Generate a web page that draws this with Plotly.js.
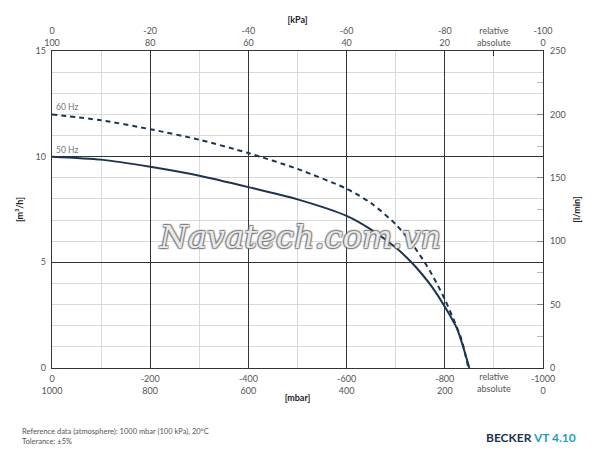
<!DOCTYPE html>
<html>
<head>
<meta charset="utf-8">
<script src="https://cdn.plot.ly/plotly-3.0.1.min.js"></script>
<style>html,body{margin:0;padding:0;background:#fff;}#chart{width:600px;height:450px;}</style>
</head>
<body>
<div id="chart"></div>
<script>
// Data
const mbar50 = [0, -100, -200, -300, -400, -500, -600, -650, -700, -730, -755, -775, -800, -825, -850];
const flow50 = [10, 9.86, 9.52, 9.1, 8.56, 7.98, 7.2, 6.55, 5.7, 5.05, 4.4, 3.8, 2.9, 1.85, 0];
const mbar60 = [0, -100, -200, -300, -400, -500, -600, -650, -700, -730, -750, -770, -786, -800, -817, -834, -848];
const flow60 = [12, 11.72, 11.3, 10.8, 10.17, 9.42, 8.48, 7.8, 6.8, 5.98, 5.32, 4.58, 3.9, 3.25, 2.35, 1.35, 0];

const mbarTicks = [0, -200, -400, -600, -800, -1000];
const mbarLabels = ['0<br>1000', '-200<br>800', '-400<br>600', '-600<br>400', '-800<br>200', '-1000<br>0'];
const kpaTicks = [0, -20, -40, -60, -80, -100];
const kpaLabels = ['0<br>100', '-20<br>80', '-40<br>60', '-60<br>40', '-80<br>20', '-100<br>0'];
const flowTicks = [0, 5, 10, 15];
const lminTicks = [0, 50, 100, 150, 200, 250];

const navy = '#1b3550';
const tickFont = {family: 'Lato, "Open Sans", sans-serif', size: 9, color: '#555'};

const traces = [
  {x: mbar60, y: flow60, mode: 'lines', line: {color: navy, width: 2, dash: '5px,4px', shape: 'spline', smoothing: 0.7}, hoverinfo: 'skip'},
  {x: mbar50, y: flow50, mode: 'lines', line: {color: navy, width: 2, shape: 'spline', smoothing: 0.7}, hoverinfo: 'skip'},
  {x: [], y: [], xaxis: 'x2', yaxis: 'y', mode: 'lines', hoverinfo: 'skip'},
  {x: [], y: [], xaxis: 'x3', yaxis: 'y', mode: 'lines', hoverinfo: 'skip'},
  {x: [], y: [], xaxis: 'x', yaxis: 'y2', mode: 'lines', hoverinfo: 'skip'}
];

const layout = {
  width: 600, height: 450,
  margin: {l: 52, r: 57, t: 51, b: 82},
  paper_bgcolor: '#fff', plot_bgcolor: '#fff',
  showlegend: false,
  font: tickFont,
  xaxis: {
    range: [0, -1000], tickmode: 'array', tickvals: mbarTicks, ticktext: mbarLabels,
    showgrid: true, gridcolor: '#333', gridwidth: 1, zeroline: false,
    showline: true, linecolor: '#333', linewidth: 1.3, mirror: true, ticks: '',
    tickfont: tickFont, ticklabelstandoff: 2,
    minor: {tickvals: [-100, -300, -500, -700, -900], showgrid: true, gridcolor: '#d9d9d9', gridwidth: 1, ticks: ''},
    title: {text: '<b>[mbar]</b>', font: {family: 'Lato, sans-serif', size: 9, color: '#222'}, standoff: 0},
    fixedrange: true
  },
  xaxis3: {
    overlaying: 'x', side: 'bottom', anchor: 'y', range: [0, -1000],
    tickmode: 'array', tickvals: [-900], ticktext: ['relative<br>absolute'],
    showgrid: false, zeroline: false, showline: false, ticks: '', tickfont: tickFont, ticklabelstandoff: 2
  },
  xaxis2: {
    overlaying: 'x', side: 'top', anchor: 'y', range: [0, -100],
    tickmode: 'array', tickvals: kpaTicks.concat([-90]), ticktext: kpaLabels.concat(['relative<br>absolute']),
    showgrid: false, zeroline: false, showline: false, ticks: 'inside', ticklen: 5, tickcolor: '#333',
    tickfont: tickFont, ticklabelstandoff: 2,
    title: {text: '<b>[kPa]</b>', font: {family: 'Lato, sans-serif', size: 9, color: '#222'}, standoff: 0}
  },
  yaxis: {
    range: [0, 15], tickmode: 'array', tickvals: flowTicks,
    showgrid: true, gridcolor: '#333', gridwidth: 1, zeroline: false,
    showline: true, linecolor: '#333', linewidth: 1.3, mirror: true, ticks: '',
    tickfont: tickFont, ticklabelstandoff: 3,
    minor: {dtick: 1, showgrid: true, gridcolor: '#d9d9d9', gridwidth: 1, ticks: ''},
    title: {text: '<b>[m³/h]</b>', font: {family: 'Lato, sans-serif', size: 9, color: '#222'}, standoff: 10},
    fixedrange: true
  },
  yaxis2: {
    overlaying: 'y', side: 'right', anchor: 'x', range: [0, 250],
    tickmode: 'array', tickvals: lminTicks, showgrid: false, zeroline: false, showline: false,
    ticks: 'inside', ticklen: 6, tickcolor: '#888', tickfont: tickFont, ticklabelstandoff: 6,
    minor: {dtick: 25, ticks: 'inside', ticklen: 6, tickcolor: '#bbb'},
    title: {text: '<b>[l/min]</b>', font: {family: 'Lato, sans-serif', size: 9, color: '#222'}, standoff: 9}
  },
  annotations: [
    {x: 0, y: 12, xref: 'x', yref: 'y', text: '60 Hz', showarrow: false, xanchor: 'left', yanchor: 'bottom', xshift: 2, font: {family: 'Lato, sans-serif', size: 8.5, color: '#777'}},
    {x: 0, y: 10, xref: 'x', yref: 'y', text: '50 Hz', showarrow: false, xanchor: 'left', yanchor: 'bottom', xshift: 2, font: {family: 'Lato, sans-serif', size: 8.5, color: '#777'}},
    {x: 0.505, y: 0.413, xref: 'paper', yref: 'paper', text: '<i>Navatech.com.vn</i>', showarrow: false,
      font: {family: '"DejaVu Serif", serif', size: 32, color: 'rgba(255,255,255,0.85)', shadow: '1px 1px 1px #777, -1px -1px 1px #777, 1px -1px 1px #777, -1px 1px 1px #777'}},
    {x: (20 - 52) / 491, y: -57 / 317, xref: 'paper', yref: 'paper', xanchor: 'left', yanchor: 'top', align: 'left', showarrow: false,
      text: 'Reference data (atmosphere): 1000 mbar (100 kPa), 20°C<br>Tolerance: ±5%',
      font: {family: 'Lato, sans-serif', size: 7.5, color: '#555'}},
    {x: 1 + 35 / 491, y: -60 / 317, xref: 'paper', yref: 'paper', xanchor: 'right', yanchor: 'top', showarrow: false,
      text: '<b><span style="color:#1b3550">BECKER</span> <span style="color:#1f9dc0">VT 4.10</span></b>',
      font: {family: 'Lato, sans-serif', size: 12}}
  ]
};

Plotly.newPlot('chart', traces, layout, {displayModeBar: false, staticPlot: true});
</script>
</body>
</html>
